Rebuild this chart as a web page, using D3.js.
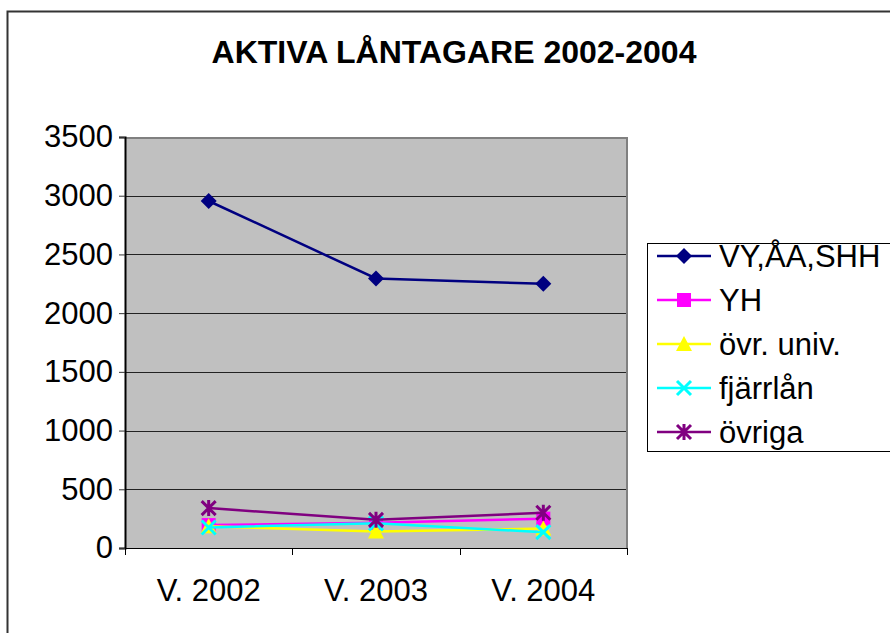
<!DOCTYPE html>
<html>
<head>
<meta charset="utf-8">
<script src="https://cdn.jsdelivr.net/npm/d3@7"></script>
<style>
  body { margin: 0; background: #fff; }
  svg { display: block; font-family: Arial, "Liberation Sans", sans-serif; }
</style>
</head>
<body>
<svg id="chart" width="890" height="633"></svg>
<script>
// kategorier (x-axeln)
const years = ['V. 2002', 'V. 2003', 'V. 2004']
// serier
const seriesNames = ['VY,ÅA,SHH', 'YH', 'övr. univ.', 'fjärrlån', 'övriga']
const vyValues = [2955, 2295, 2250]
const yhValues = [195, 215, 250]
const univValues = [185, 140, 165]
const fjarrValues = [175, 210, 135]
const ovrigaValues = [340, 240, 300]
const yTicks = [0, 500, 1000, 1500, 2000, 2500, 3000, 3500]

const seriesColors = ['#000080', '#FF00FF', '#FFFF00', '#00FFFF', '#800080']
const seriesMarkers = ['diamond', 'square', 'triangle', 'x', 'star']
const series = [vyValues, yhValues, univValues, fjarrValues, ovrigaValues].map((values, i) => ({
    name: seriesNames[i],
    values: values,
    color: seriesColors[i],
    marker: seriesMarkers[i]
}))

const svg = d3.select('#chart')
const plot = { left: 125, right: 627, top: 137, bottom: 548 }
const fontSize = 31

const x = d3.scalePoint().domain(years).range([plot.left, plot.right]).padding(0.5)
const y = d3.scaleLinear().domain([0, 3500]).range([plot.bottom, plot.top])

// yttre ram
svg.append('rect')
    .attr('x', 7.5).attr('y', 11.5)
    .attr('width', 900).attr('height', 700)
    .attr('fill', 'none').attr('stroke', '#333').attr('stroke-width', 2)

// titel
svg.append('text')
    .attr('x', 454).attr('y', 63)
    .attr('text-anchor', 'middle')
    .attr('font-weight', 'bold')
    .attr('font-size', 32)
    .text('AKTIVA LÅNTAGARE 2002-2004')

// diagramyta
svg.append('rect')
    .attr('x', plot.left).attr('y', plot.top)
    .attr('width', plot.right - plot.left).attr('height', plot.bottom - plot.top)
    .attr('fill', '#C0C0C0')

// stödlinjer
svg.append('g')
    .selectAll('line')
    .data(yTicks.filter((d) => d > 0 && d < 3500))
    .join('line')
    .attr('x1', plot.left).attr('x2', plot.right)
    .attr('y1', (d) => Math.round(y(d)) + 0.5).attr('y2', (d) => Math.round(y(d)) + 0.5)
    .attr('stroke', '#222')

// ram runt diagramytan (grå överst och till höger)
svg.append('path')
    .attr('d', `M${plot.left},${plot.top + 1}H${plot.right}V${plot.bottom}`)
    .attr('fill', 'none').attr('stroke', '#808080').attr('stroke-width', 2)

// y-axel
const yAxis = svg.append('g')
    .attr('transform', `translate(${plot.left},0)`)
    .call(d3.axisLeft(y).tickValues(yTicks).tickFormat(d3.format('d')).tickSize(6).tickPadding(6))
yAxis.select('.domain').attr('stroke', '#000').attr('stroke-width', 2)
yAxis.selectAll('.tick line').attr('stroke', '#333')
yAxis.selectAll('text')
    .attr('font-size', fontSize).attr('fill', '#000')
    .attr('font-family', 'Arial, "Liberation Sans", sans-serif')

// x-axel
const xBand = d3.scaleBand().domain(years).range([plot.left, plot.right])
const xAxis = svg.append('g').attr('transform', `translate(0,${plot.bottom})`)
xAxis.append('line')
    .attr('x1', plot.left).attr('x2', plot.right)
    .attr('y1', 0.5).attr('y2', 0.5)
    .attr('stroke', '#000')
xAxis.selectAll('.tk')
    .data(years.map((d) => xBand(d)).concat([plot.right]))
    .join('line')
    .attr('class', 'tk')
    .attr('x1', (d) => Math.round(d) + 0.5).attr('x2', (d) => Math.round(d) + 0.5)
    .attr('y1', 0).attr('y2', 7)
    .attr('stroke', '#000')
xAxis.selectAll('text')
    .data(years)
    .join('text')
    .attr('x', (d) => x(d))
    .attr('y', 53)
    .attr('text-anchor', 'middle')
    .attr('font-size', fontSize)
    .text((d) => d)

// markörer
function drawMarker(g, type, color, size) {
    const s = size / 2
    if (type === 'diamond') {
        g.append('path').attr('d', `M0,${-s - 1}L${s + 1},0L0,${s + 1}L${-s - 1},0Z`).attr('fill', color)
    } else if (type === 'square') {
        g.append('rect').attr('x', -s).attr('y', -s).attr('width', size).attr('height', size).attr('fill', color)
    } else if (type === 'triangle') {
        g.append('path').attr('d', `M0,${-s - 1}L${s + 1},${s}L${-s - 1},${s}Z`).attr('fill', color)
    } else if (type === 'x') {
        g.append('path').attr('d', `M${-s},${-s}L${s},${s}M${s},${-s}L${-s},${s}`)
            .attr('stroke', color).attr('stroke-width', 3).attr('fill', 'none')
    } else if (type === 'star') {
        g.append('path').attr('d', `M${-s},${-s}L${s},${s}M${s},${-s}L${-s},${s}M0,${-s - 1}V${s + 1}`)
            .attr('stroke', color).attr('stroke-width', 3).attr('fill', 'none')
    }
}

const line = d3.line().x((d, i) => x(years[i])).y((d) => y(d))

// linjer och punkter
const seriesG = svg.append('g')
    .selectAll('g')
    .data(series)
    .join('g')

seriesG.append('path')
    .attr('d', (d) => line(d.values))
    .attr('fill', 'none')
    .attr('stroke', (d) => d.color)
    .attr('stroke-width', 2.5)

seriesG.each(function (d) {
    const grp = d3.select(this)
    d.values.forEach((v, i) => {
        const m = grp.append('g').attr('transform', `translate(${x(years[i])},${y(v)})`)
        drawMarker(m, d.marker, d.color, 14)
    })
})

// förklaring
const legend = svg.append('g')
legend.append('rect')
    .attr('x', 647.5).attr('y', 243.5)
    .attr('width', 260).attr('height', 208)
    .attr('fill', '#fff').attr('stroke', '#000')

const item = legend.selectAll('g.item')
    .data(series)
    .join('g')
    .attr('class', 'item')
    .attr('transform', (d, i) => `translate(0,${256 + i * 44})`)

item.append('line')
    .attr('x1', 657).attr('x2', 711)
    .attr('stroke', (d) => d.color).attr('stroke-width', 2.5)
item.each(function (d) {
    const m = d3.select(this).append('g').attr('transform', 'translate(684,0)')
    drawMarker(m, d.marker, d.color, 14)
})
item.append('text')
    .attr('x', 719)
    .attr('dy', '0.36em')
    .attr('font-size', fontSize)
    .text((d) => d.name)
</script>
</body>
</html>
